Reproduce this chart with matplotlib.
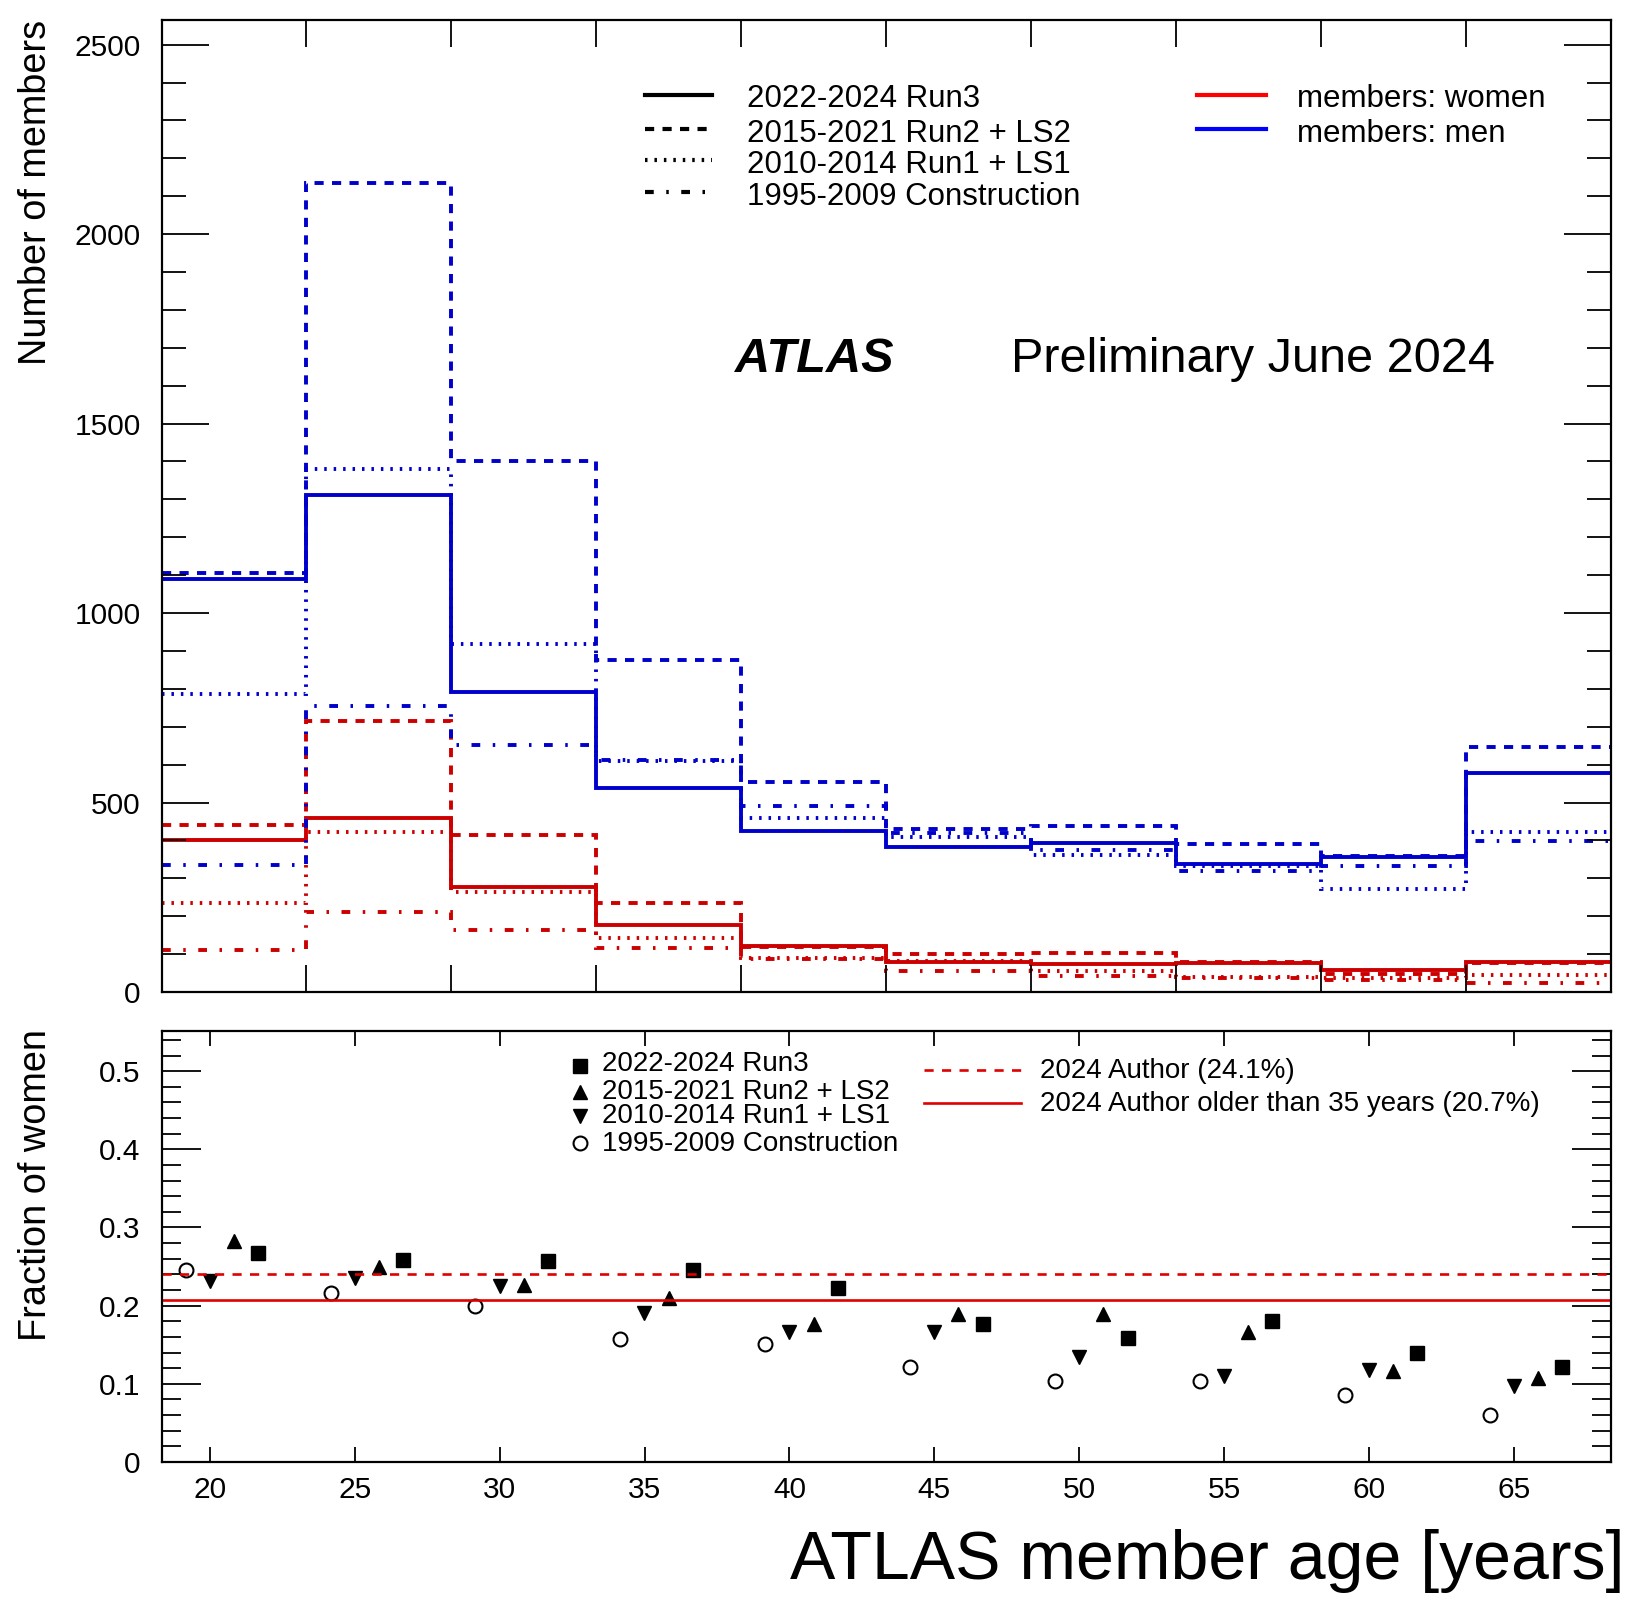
import matplotlib
matplotlib.use("Agg")
import matplotlib.pyplot as plt
from matplotlib.lines import Line2D
from matplotlib.ticker import MultipleLocator, FixedLocator
import numpy as np

plt.rcParams['font.family'] = ['Liberation Sans', 'DejaVu Sans']
plt.rcParams['lines.scale_dashes'] = False

# ---------------- data ----------------
age_edges = [18.33, 23.33, 28.33, 33.33, 38.33, 43.33, 48.33, 53.33, 58.33, 63.33, 68.33]

periods = ["2022-2024 Run3", "2015-2021 Run2 + LS2", "2010-2014 Run1 + LS1", "1995-2009 Construction"]

men_run3 = [1090, 1311, 792, 538, 426, 383, 393, 339, 355, 577]
men_run2 = [1107, 2136, 1400, 877, 554, 430, 437, 391, 360, 647]
men_run1 = [786, 1380, 919, 610, 459, 410, 362, 332, 272, 421]
men_con = [335, 754, 653, 612, 491, 420, 376, 318, 332, 398]

women_run3 = [401, 458, 276, 177, 122, 80, 75, 77, 59, 80]
women_run2 = [442, 715, 415, 234, 118, 99, 102, 78, 48, 77]
women_run1 = [234, 423, 264, 143, 91, 82, 56, 40, 37, 45]
women_con = [110, 210, 163, 117, 87, 56, 43, 37, 31, 25]

frac_run3 = [0.268, 0.258, 0.257, 0.246, 0.222, 0.177, 0.159, 0.181, 0.140, 0.122]
frac_run2 = [0.283, 0.249, 0.226, 0.210, 0.176, 0.189, 0.189, 0.166, 0.116, 0.107]
frac_run1 = [0.231, 0.236, 0.225, 0.191, 0.166, 0.166, 0.134, 0.110, 0.118, 0.097]
frac_con = [0.246, 0.216, 0.200, 0.157, 0.151, 0.122, 0.103, 0.104, 0.086, 0.060]

author_frac = 0.241
author_older35_frac = 0.207
ref_labels = ["2024 Author (24.1%)", "2024 Author older than 35 years (20.7%)"]

count_ticks = [0, 500, 1000, 1500, 2000, 2500]
count_tick_labels = ["0", "500", "1000", "1500", "2000", "2500"]
frac_ticks = [0, 0.1, 0.2, 0.3, 0.4, 0.5]
frac_tick_labels = ["0", "0.1", "0.2", "0.3", "0.4", "0.5"]
age_ticks = [20, 25, 30, 35, 40, 45, 50, 55, 60, 65]
age_tick_labels = ["20", "25", "30", "35", "40", "45", "50", "55", "60", "65"]

# ---------------- style ----------------
W, H = 1627, 1603
fig = plt.figure(figsize=(W / 100, H / 100), dpi=100)

def fx(px):
    return px / W

def fy(py):
    return 1 - py / H

SOLID = '-'
DASH = (0, (6.6, 6.0))
DOT = (0, (1.8, 5.0))
DASHDOT = (0, (6.3, 9.0, 1.8, 9.0))
styles = [SOLID, DASH, DOT, DASHDOT]

BLUE_H = '#0000cc'
RED_H = '#cc0000'
HIST_LW = 2.8

L, R = 161.5, 1610.5
ax1 = fig.add_axes([fx(L), fy(992), fx(R) - fx(L), fy(20) - fy(992)])
ax2 = fig.add_axes([fx(L), fy(1462), fx(R) - fx(L), fy(1030.5) - fy(1462)])

for ax in (ax1, ax2):
    for sp in ax.spines.values():
        sp.set_linewidth(1.6)

edges = np.array(age_edges)

# ---------------- top panel ----------------
men = [men_run3, men_run2, men_run1, men_con]
women = [women_run3, women_run2, women_run1, women_con]
for i in [3, 2, 1, 0]:
    ax1.stairs(women[i], edges, baseline=None, color=RED_H, linewidth=HIST_LW, linestyle=styles[i])
for i in [3, 2, 1, 0]:
    ax1.stairs(men[i], edges, baseline=None, color=BLUE_H, linewidth=HIST_LW, linestyle=styles[i])

ax1.set_xlim(edges[0], edges[-1])
ax1.set_ylim(0, 2565)
ax1.xaxis.set_major_locator(FixedLocator(edges[1:-1]))
ax1.tick_params(axis='x', which='major', direction='in', length=19.5, width=1.3,
                top=True, bottom=True, labelbottom=False)
ax1.set_yticks(count_ticks)
ax1.set_yticklabels(count_tick_labels)
ax1.yaxis.set_minor_locator(MultipleLocator(100))
ax1.tick_params(axis='y', which='major', direction='in', length=34, width=1.3,
                left=True, right=True, labelsize=21.5, pad=15)
ax1.tick_params(axis='y', which='minor', direction='in', length=17, width=1.3,
                left=True, right=True)

# ---------------- bottom panel ----------------
centers = 0.5 * (edges[:-1] + edges[1:])
step = (edges[1] - edges[0]) / 6.0
ax2.plot(centers + step, frac_run3, linestyle='none', marker='s', color='k', markersize=10)
ax2.plot(centers, frac_run2, linestyle='none', marker='^', color='k', markersize=10)
ax2.plot(centers - step, frac_run1, linestyle='none', marker='v', color='k', markersize=10)
ax2.plot(centers - 2 * step, frac_con, linestyle='none', marker='o', markerfacecolor='white',
         markeredgecolor='k', markeredgewidth=1.5, markersize=10)

ax2.axhline(author_frac, color='#e00000', linewidth=1.9, linestyle=DASH)
ax2.axhline(author_older35_frac, color='#e00000', linewidth=1.9, linestyle='-')

ax2.set_xlim(edges[0], edges[-1])
ax2.set_ylim(0, 0.552)
ax2.set_xticks(age_ticks)
ax2.set_xticklabels(age_tick_labels)
ax2.tick_params(axis='x', which='major', direction='in', length=10.5, width=1.3,
                top=True, bottom=True, labelsize=21.5, pad=10)
ax2.set_yticks(frac_ticks)
ax2.set_yticklabels(frac_tick_labels)
ax2.yaxis.set_minor_locator(MultipleLocator(0.02))
ax2.tick_params(axis='y', which='major', direction='in', length=28, width=1.3,
                left=True, right=True, labelsize=21.5, pad=15)
ax2.tick_params(axis='y', which='minor', direction='in', length=14, width=1.3,
                left=True, right=True)

# ---------------- texts ----------------
fig.text(fx(36), fy(20), "Number of members", rotation=90, ha='center', va='top', fontsize=27.3)
fig.text(fx(36), fy(1029), "Fraction of women", rotation=90, ha='center', va='top', fontsize=27.3)
fig.text(fx(1625), fy(1579), "ATLAS member age [years]", ha='right', va='baseline', fontsize=49)
fig.text(fx(735), fy(372), "ATLAS", ha='left', va='baseline', fontsize=35,
         fontweight='bold', fontstyle='italic')
fig.text(fx(1011), fy(372), "Preliminary June 2024", ha='left', va='baseline', fontsize=35)

# top legend (line styles)
leg_text_y = [96, 130.7, 161.8, 193.6]
for i, lab in enumerate(periods):
    yc = leg_text_y[i]
    fig.add_artist(Line2D([fx(645), fx(712)], [fy(yc - 1.5), fy(yc - 1.5)], color='k',
                          linewidth=3.0, linestyle=styles[i], transform=fig.transFigure))
    fig.text(fx(747), fy(yc + 11.2), lab, ha='left', va='baseline', fontsize=22.5)

# top legend (colours)
for yc, col, lab in [(96, '#ff0000', "members: women"), (130.7, '#0000ff', "members: men")]:
    fig.add_artist(Line2D([fx(1197), fx(1266)], [fy(yc - 1.5), fy(yc - 1.5)], color=col,
                          linewidth=3.0, transform=fig.transFigure))
    fig.text(fx(1297), fy(yc + 11.2), lab, ha='left', va='baseline', fontsize=22.5)

# bottom legend (markers)
mk = [dict(marker='s', color='k', markersize=10),
      dict(marker='^', color='k', markersize=10),
      dict(marker='v', color='k', markersize=10),
      dict(marker='o', markerfacecolor='white', markeredgecolor='k', markeredgewidth=1.5, markersize=10)]
b_text_y = [1061.5, 1089.3, 1113.3, 1140.8]
b_mark_y = [1066, 1092, 1116, 1143]
for i, lab in enumerate(periods):
    fig.add_artist(Line2D([fx(579.5)], [fy(b_mark_y[i])], linestyle='none',
                          transform=fig.transFigure, **mk[i]))
    fig.text(fx(601.5), fy(b_text_y[i] + 9.9), lab, ha='left', va='baseline', fontsize=20)

# bottom legend (reference lines)
for yc, ls, lab in [(1068.5, DASH, ref_labels[0]), (1101, '-', ref_labels[1])]:
    fig.add_artist(Line2D([fx(924), fx(1021)], [fy(yc + 1.5), fy(yc + 1.5)], color='#e00000',
                          linewidth=1.9, linestyle=ls, transform=fig.transFigure))
    fig.text(fx(1040), fy(yc + 9.9), lab, ha='left', va='baseline', fontsize=20)

fig.savefig("out.png", dpi=100)
